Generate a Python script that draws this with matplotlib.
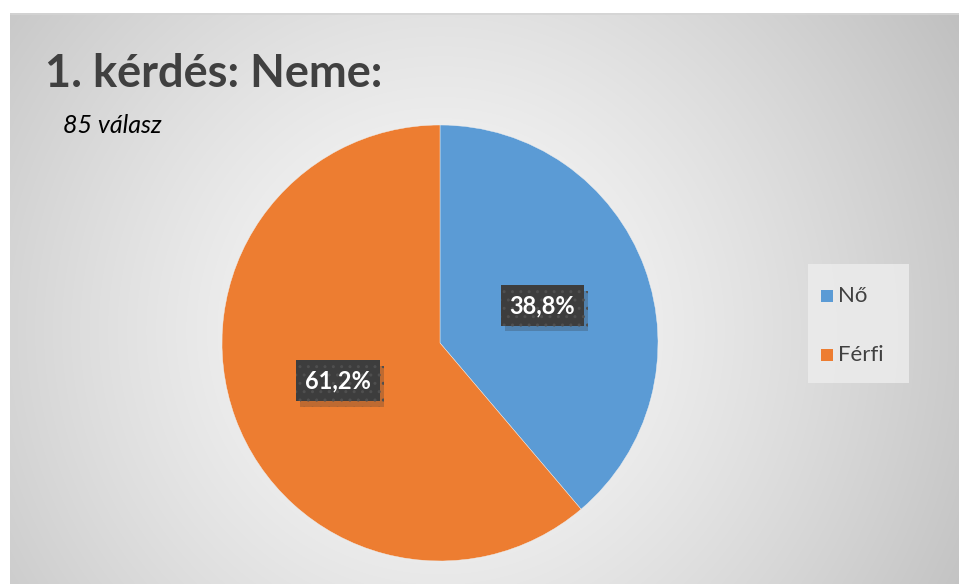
import numpy as np
import matplotlib
matplotlib.use("Agg")
import matplotlib.pyplot as plt
import matplotlib.patheffects as pe

categories = ["Nő", "Férfi"]
values = [38.8, 61.2]
colors = ["#5B9BD5", "#ED7D31"]
title = "1. kérdés: Neme:"
subtitle = "85 válasz"

W, H = 959, 584
fig = plt.figure(figsize=(W / 100, H / 100), dpi=100)
fig.patch.set_facecolor("white")

# background radial gradient
x0, y0 = 10, 13
bg = fig.add_axes([x0 / W, 0, (W - x0) / W, (H - y0) / H])
bg.set_axis_off()
ny, nx = H - y0, W - x0
yy, xx = np.mgrid[0:ny, 0:nx]
cx, cy = 440 - x0, 330 - y0
d = np.sqrt((xx - cx) ** 2 + (yy - cy) ** 2) / 560.0
v = 0.985 - 0.21 * np.clip(d, 0, 1.2) ** 1.3
img = np.dstack([v, v, v])
bg.imshow(img, aspect="auto", extent=[0, 1, 0, 1], origin="upper")
bg.set_xlim(0, 1)
bg.set_ylim(0, 1)
bg.plot([0, 1], [0.999, 0.999], color="#d4d4d4", lw=1.2, transform=bg.transAxes)

# pie
pcx, pcy, r = 440, 343, 218
ax = fig.add_axes([(pcx - r) / W, (H - pcy - r) / H, 2 * r / W, 2 * r / H])
ax.set_axis_off()
wedges, texts, autotexts = ax.pie(
    values, colors=colors, startangle=90, counterclock=False,
    autopct=lambda p: f"{p:.1f}%".replace(".", ","), pctdistance=0.5,
    wedgeprops=dict(edgecolor="#f0f0f0", linewidth=0.3),
)
ax.set_xlim(-1, 1)
ax.set_ylim(-1, 1)
for t in autotexts:
    t.set_color("white")
    t.set_fontsize(17)
    t.set_fontweight("bold")
    t.set_family(["Lato", "DejaVu Sans"])
    t.set_bbox(dict(boxstyle="square,pad=0.38", facecolor="#3d3d3d",
                    edgecolor="#4f4f4f", linewidth=0, hatch=".."))
    t.get_bbox_patch().set_path_effects(
        [pe.SimplePatchShadow(offset=(3, -4), shadow_rgbFace="#333333", alpha=0.25), pe.Normal()])

# title
fig.text(45 / W, 1 - 87 / H, title, fontsize=32.5, fontweight="bold", color="#404040",
         family=["Lato", "DejaVu Sans"], va="baseline", ha="left")
fig.text(63 / W, 1 - 133 / H, subtitle, fontsize=18, style="italic", color="black",
         family=["Lato", "DejaVu Sans"], va="baseline", ha="left")

# legend
lax = fig.add_axes([808 / W, 1 - 383 / H, 101 / W, 119 / H])
lax.set_xlim(0, 101)
lax.set_ylim(119, 0)
lax.set_axis_off()
lax.add_patch(plt.Rectangle((0, 0), 101, 119, facecolor="#ececec", edgecolor="none", alpha=0.85))
for i, (c, lab) in enumerate(zip(colors, categories)):
    yc = 32 + i * 59
    lax.add_patch(plt.Rectangle((13, yc - 6), 12, 12, facecolor=c, edgecolor="none"))
    lax.text(30, yc, lab, fontsize=16, color="#404040", va="center", ha="left",
             family=["Lato", "DejaVu Sans"])

fig.savefig("out.png", dpi=100)
